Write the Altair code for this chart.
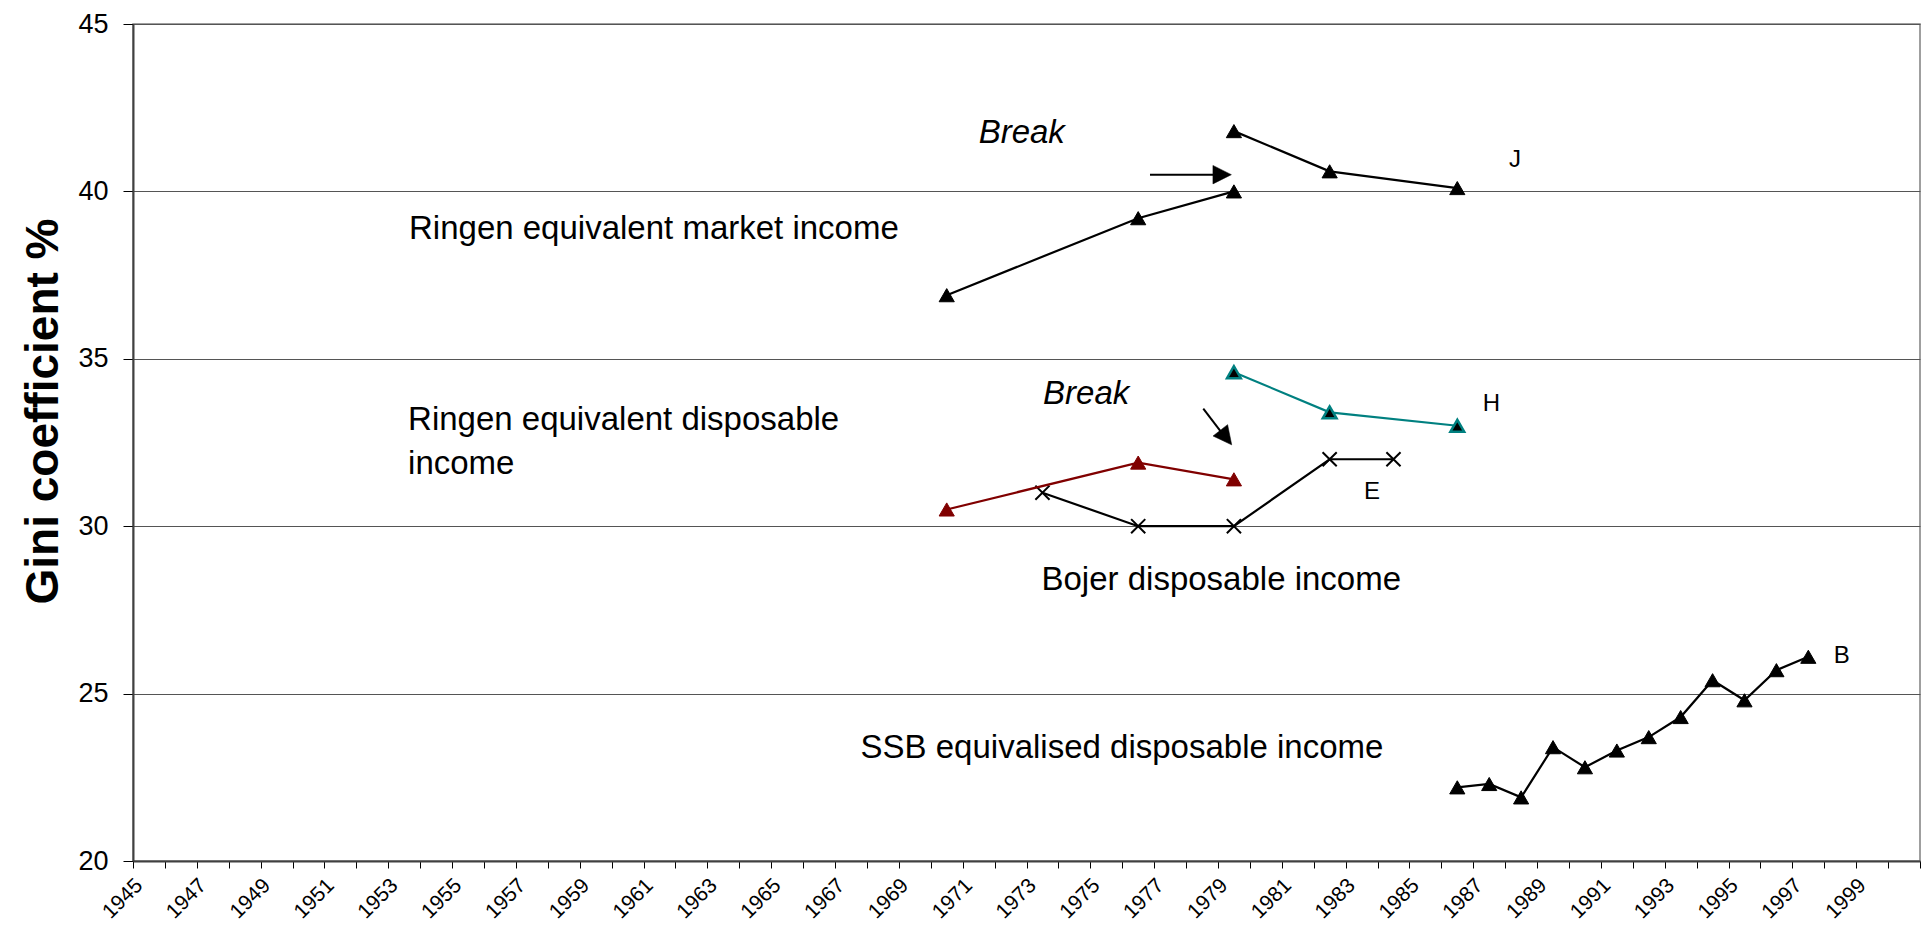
import altair as alt
import pandas as pd

# ---------------- data ----------------
ringen_old_years = [1970, 1976, 1979]
ringen_market_old = [36.9, 39.2, 40.0]
ringen_disp_old = [30.5, 31.9, 31.4]

ringen_new_years = [1979, 1982, 1986]
ringen_market_new = [41.8, 40.6, 40.1]
ringen_disp_new = [34.6, 33.4, 33.0]

bojer_years = [1973, 1976, 1979, 1982, 1984]
bojer_disp = [31.0, 30.0, 30.0, 32.0, 32.0]

ssb_years = [1986, 1987, 1988, 1989, 1990, 1991, 1992, 1993, 1994, 1995, 1996, 1997]
ssb_disp = [22.2, 22.3, 21.9, 23.4, 22.8, 23.3, 23.7, 24.3, 25.4, 24.8, 25.7, 26.1]

year_first, year_last = 1945, 2000
y_ticks = [20, 25, 30, 35, 40, 45]
y_title = "Gini coefficient %"

# text annotations (data coordinates: year, Gini)
main_texts = ["Ringen equivalent market income", "Ringen equivalent disposable", "income",
              "Bojer disposable income", "SSB equivalised disposable income"]
main_x = [1953.15, 1953.12, 1953.12, 1972.97, 1967.3]
main_y = [38.59, 32.87, 31.56, 28.09, 23.09]

break_texts = ["Break", "Break"]
break_x = [1971.0, 1973.02]
break_y = [41.45, 33.66]

letter_texts = ["J", "H", "E", "B"]
letter_x = [1987.62, 1986.8, 1983.08, 1997.8]
letter_y = [40.73, 33.45, 30.82, 25.92]

# arrows: shaft start/end and head tip
arrow_x = [1976.37, 1978.04]
arrow_y = [40.50, 33.51]
arrow_x2 = [1978.5, 1978.68]
arrow_y2 = [40.50, 32.71]
head_x = [1978.92, 1978.93]
head_y = [40.50, 32.43]
head_angle = [0, 52]

# ---------------- scales & axes ----------------
FONT = "Liberation Sans"
x_scale = alt.Scale(domain=[year_first - 0.5, year_last + 0.5], nice=False, zero=False)
y_scale = alt.Scale(domain=[y_ticks[0], y_ticks[-1]], nice=False, zero=False)

x_axis = alt.Axis(
    values=[y - 0.5 for y in range(year_first, year_last + 2)],
    labelExpr="datum.value < 2000 && (datum.value + 0.5) % 2 == 1 ? format(datum.value + 0.5, 'd') : ''",
    labelAngle=315, labelAlign="right", labelBaseline="middle",
    labelOffset=6, labelPadding=14, labelFontSize=21, labelColor="black",
    labelOverlap=False, labelFlush=False, labelBound=False,
    tickSize=7, tickColor="black", tickWidth=1,
    domainColor="#404040", domainWidth=2, grid=False, title=None,
)
y_axis = alt.Axis(
    values=y_ticks, format="d",
    labelFontSize=27, labelColor="black", labelPadding=15,
    tickSize=10, tickColor="black", tickWidth=1,
    domainColor="#404040", domainWidth=2,
    grid=True, gridColor="#555555", gridWidth=1,
    title=y_title, titleFontSize=46, titleFontWeight="bold", titleColor="black",
    titleAngle=270, titleAlign="center", titleBaseline="alphabetic",
    titleX=-76, titleY=387,
)

X = lambda f: alt.X(f, type="quantitative", scale=x_scale, axis=x_axis)
Y = lambda f: alt.Y(f, type="quantitative", scale=y_scale, axis=y_axis)

TRI = 230
CROSS = "M-1,-1L1,1M-1,1L1,-1"


def series(years, values, line_color, shape, fill, stroke, size, filled=True, sw=1):
    df = pd.DataFrame({"year": years, "gini": values})
    base = alt.Chart(df).encode(x=X("year"), y=Y("gini"))
    line = base.mark_line(color=line_color, strokeWidth=2.2)
    if filled:
        pts = base.mark_point(shape=shape, filled=True, fill=fill, stroke=stroke,
                              strokeWidth=sw, size=size, opacity=1)
    else:
        pts = base.mark_point(shape=shape, filled=False, stroke=stroke,
                              strokeWidth=sw, size=size, opacity=1)
    return [line, pts]


layers = []
layers += series(ringen_old_years, ringen_market_old, "black", "triangle-up", "black", "black", TRI)
layers += series(ringen_new_years, ringen_market_new, "black", "triangle-up", "black", "black", TRI)
layers += series(bojer_years, bojer_disp, "black", CROSS, None, "black", 200, filled=False, sw=2)
layers += series(ringen_old_years, ringen_disp_old, "#800000", "triangle-up", "#800000", "#800000", TRI)
layers += series(ringen_new_years, ringen_disp_new, "#008080", "triangle-up", "black", "#008080", 190, sw=2.5)
layers += series(ssb_years, ssb_disp, "black", "triangle-up", "black", "black", TRI)

# arrows
arrows_df = pd.DataFrame({"x": arrow_x, "y": arrow_y, "x2": arrow_x2, "y2": arrow_y2})
layers.append(
    alt.Chart(arrows_df).mark_rule(color="black", strokeWidth=2).encode(
        x=X("x"), y=Y("y"), x2="x2", y2="y2")
)
heads_df = pd.DataFrame({"x": head_x, "y": head_y, "angle": head_angle})
layers.append(
    alt.Chart(heads_df).mark_point(shape="M0,0L-2,-1L-2,1Z", filled=True, fill="black",
                                   stroke="black", strokeWidth=0.5, size=340, opacity=1).encode(
        x=X("x"), y=Y("y"), angle=alt.Angle("angle:Q", scale=None))
)

# texts
main_df = pd.DataFrame({"t": main_texts, "x": main_x, "y": main_y})
layers.append(
    alt.Chart(main_df).mark_text(align="left", baseline="alphabetic", fontSize=33,
                                 font=FONT, color="black").encode(x=X("x"), y=Y("y"), text="t:N")
)
break_df = pd.DataFrame({"t": break_texts, "x": break_x, "y": break_y})
layers.append(
    alt.Chart(break_df).mark_text(align="left", baseline="alphabetic", fontSize=33,
                                  fontStyle="italic", font=FONT, color="black").encode(
        x=X("x"), y=Y("y"), text="t:N")
)
letter_df = pd.DataFrame({"t": letter_texts, "x": letter_x, "y": letter_y})
layers.append(
    alt.Chart(letter_df).mark_text(align="left", baseline="alphabetic", fontSize=24,
                                   font=FONT, color="black").encode(
        x=X("x"), y=Y("y"), text="t:N")
)

chart = (
    alt.layer(*layers)
    .properties(
        width=1787, height=837,
        autosize=alt.AutoSizeParams(type="none"),
        padding={"left": 125, "top": 16, "right": 2, "bottom": 66},
        background="white",
    )
    .configure(font=FONT)
    .configure_axis(labelFont=FONT, titleFont=FONT)
    .configure_view(stroke="#808080", strokeWidth=1.5)
)

chart.save("out.html", embed_options={"renderer": "svg", "actions": False})
